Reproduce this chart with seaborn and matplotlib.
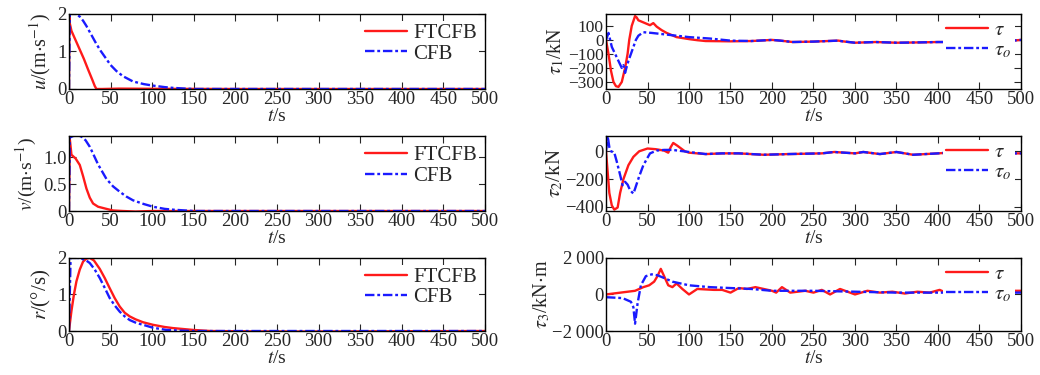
import matplotlib
matplotlib.use("Agg")
import matplotlib.pyplot as plt
import seaborn as sns
import numpy as np

# ---- data ----
# u (surge speed)
u_t_ftcfb = [0, 0.5, 1, 3, 8, 13, 18, 23, 28, 31, 33, 40, 60, 100, 200, 300, 400, 500]
u_ftcfb = [0, 1.95, 1.75, 1.55, 1.3, 1.05, 0.8, 0.52, 0.25, 0.08, 0.0, 0.0, 0.01, 0.005, 0, 0, 0, 0]
u_t_cfb = [0, 1, 3, 8, 13, 17, 21, 25, 29, 33, 38, 44, 50, 57, 65, 77, 90, 101, 115, 125, 140, 150, 200, 500]
u_cfb = [0, 2.0, 2.02, 2.0, 1.93, 1.82, 1.68, 1.52, 1.36, 1.2, 1.02, 0.83, 0.64, 0.48, 0.34, 0.2,
         0.13, 0.09, 0.05, 0.03, 0.01, 0.0, 0, 0]

# v (sway speed)
v_t_ftcfb = [0, 1, 3, 8, 13, 17, 21, 25, 29, 35, 45, 53, 65, 80, 100, 500]
v_ftcfb = [0, 1.35, 1.05, 0.98, 0.86, 0.65, 0.42, 0.25, 0.14, 0.08, 0.04, 0.01, 0.0, -0.01, 0, 0]
v_t_cfb = [0, 1, 5, 10, 15, 20, 25, 29, 35, 45, 53, 61, 69, 77, 90, 101, 115, 125, 140, 150, 500]
v_cfb = [0, 1.37, 1.4, 1.41, 1.39, 1.32, 1.2, 1.07, 0.87, 0.6, 0.46, 0.36, 0.27, 0.2, 0.13, 0.08,
         0.04, 0.025, 0.01, 0, 0]

# r (yaw rate)
r_t_ftcfb = [0, 3, 6, 9, 13, 17, 21, 25, 30, 37, 43, 49, 55, 61, 67, 73, 80, 89, 101, 115, 125,
             149, 170, 220, 280, 500]
r_ftcfb = [0, 0.55, 1.0, 1.36, 1.68, 1.9, 1.98, 2.0, 1.93, 1.7, 1.45, 1.17, 0.9, 0.67, 0.5, 0.4,
           0.32, 0.24, 0.17, 0.11, 0.08, 0.03, 0.0, -0.01, -0.015, 0]
r_t_cfb = [0, 1, 2, 5, 10, 15, 20, 25, 31, 37, 43, 49, 55, 61, 67, 73, 81, 89, 101, 117, 135, 150, 500]
r_cfb = [0, 1.0, 2.0, 2.0, 2.0, 1.98, 1.94, 1.86, 1.68, 1.45, 1.18, 0.9, 0.7, 0.53, 0.4, 0.3,
         0.22, 0.17, 0.09, 0.03, 0.01, 0, 0]

# tau1
tau1_t = [0, 3, 6, 9, 12, 15, 19, 23, 26, 28, 31, 35, 37, 39, 45, 53, 57, 61, 67, 73, 85, 101,
          110, 120, 150, 175, 200, 210, 225, 250, 280, 285, 300, 325, 350, 375, 400, 412, 450, 490, 500]
tau1 = [0, -100, -220, -300, -330, -335, -300, -200, -100, 0, 100, 170, 160, 140, 125, 105, 120,
        95, 70, 50, 20, 5, -2, -8, -10, -8, 0, -5, -15, -12, -5, -10, -20, -15, -20, -18, -15, -15,
        -15, -5, 0]
tau1o_t = [0, 3, 7, 11, 15, 19, 21, 23, 25, 27, 30, 33, 36, 39, 45, 55, 70, 85, 100, 125, 150,
           175, 200, 210, 225, 250, 280, 285, 300, 325, 350, 375, 400, 412, 450, 490, 500]
tau1o = [0, 50, -50, -100, -150, -200, -180, -235, -190, -150, -100, -50, 0, 30, 55, 50, 40, 30,
         20, 10, -5, -8, 0, -5, -15, -12, -5, -10, -20, -15, -20, -18, -15, -15, -15, -5, 0]

# tau2
tau2_t = [0, 2, 4, 7, 10, 14, 17, 21, 27, 33, 40, 50, 60, 70, 75, 78, 81, 86, 95, 100, 120, 140,
          160, 190, 220, 260, 275, 300, 310, 330, 350, 370, 400, 412, 450, 500]
tau2 = [0, -150, -300, -390, -420, -405, -300, -200, -100, -40, 0, 20, 15, 5, -10, 30, 60, 40, 0,
        -10, -20, -15, -15, -25, -20, -15, -5, -15, -5, -20, -5, -25, -15, -10, -15, -15]
tau2o_t = [0, 2, 4, 6, 10, 13, 17, 20, 23, 26, 29, 33, 35, 40, 45, 53, 61, 70, 80, 100, 120, 140,
           160, 190, 220, 260, 275, 300, 310, 330, 350, 370, 400, 412, 450, 500]
tau2o = [0, 110, 30, 0, -10, -75, -170, -245, -220, -240, -280, -305, -270, -180, -100, -15, 5,
         10, 10, -5, -20, -15, -15, -25, -20, -15, -5, -15, -5, -20, -5, -25, -15, -10, -15, -15]

# tau3
tau3_t = [0, 35, 45, 52, 58, 62, 66, 70, 75, 80, 85, 92, 100, 110, 130, 140, 150, 160, 170, 180,
          200, 205, 212, 222, 240, 250, 260, 270, 282, 300, 315, 330, 345, 360, 375, 390, 402, 412,
          450, 490, 500]
tau3 = [0, 200, 400, 500, 700, 1000, 1400, 1000, 500, 400, 600, 300, 0, 300, 250, 250, 100, 350,
        300, 400, 200, 100, 400, 100, 200, 100, 250, 0, 300, 0, 200, 100, 150, 50, 150, 100, 250,
        50, 150, 200, 200]
tau3o_t = [0, 20, 30, 33, 35, 38, 42, 48, 55, 62, 70, 80, 90, 100, 125, 150, 175, 200, 250, 300,
           350, 400, 412, 450, 500]
tau3o = [-150, -200, -400, -700, -1600, -500, 500, 1000, 1100, 1050, 900, 700, 600, 500, 400, 350,
         300, 200, 200, 150, 100, 100, 100, 100, 100]

x_ticks = list(range(0, 501, 50))

sns.set_style("ticks")
plt.rcParams["font.family"] = ["Liberation Serif", "DejaVu Serif"]
plt.rcParams["mathtext.fontset"] = "stix"
plt.rcParams["xtick.direction"] = "in"
plt.rcParams["ytick.direction"] = "in"
plt.rcParams["xtick.top"] = True
plt.rcParams["ytick.right"] = True
plt.rcParams["xtick.major.size"] = 5
plt.rcParams["ytick.major.size"] = 5
plt.rcParams["axes.linewidth"] = 1.0

RED = "#ff1a1a"
BLUE = "#1a1aff"
DASH = (4, 1.2, 1.2, 1.2)

fig = plt.figure(figsize=(10.4, 3.75), dpi=100)

lefts = [0.0663, 0.5827]
bottoms = [0.7627, 0.4373, 0.1173]
heights = [0.2, 0.2, 0.195]


def draw(ax, t1, y1, t2, y2, lab1, lab2, right=False):
    sns.lineplot(x=t1, y=y1, ax=ax, color=RED, lw=1.7, label=lab1, sort=False)
    sns.lineplot(x=t2, y=y2, ax=ax, color=BLUE, lw=1.7, label=lab2, sort=False,
                 dashes=False)
    ax.lines[-1].set_dashes(DASH)
    ax.set_xlim(0, 500)
    ax.set_xticks(x_ticks)
    ax.tick_params(labelsize=13.5, pad=1.5)
    ax.set_xlabel(r"$t$/s", fontsize=14, labelpad=0)
    if right:
        leg = ax.legend(loc="upper right", bbox_to_anchor=(0.985, 0.95), fontsize=15,
                        frameon=True, framealpha=1, edgecolor="none", facecolor="white",
                        handlelength=2.0, labelspacing=0.0, borderpad=0.15,
                        handletextpad=0.3, borderaxespad=0)
    else:
        leg = ax.legend(loc="upper right", bbox_to_anchor=(0.985, 0.9), fontsize=15,
                        frameon=True, framealpha=1, edgecolor="none", facecolor="white",
                        handlelength=2.0, labelspacing=0.05, borderpad=0.1,
                        handletextpad=0.3, borderaxespad=0)
    leg.get_frame().set_linewidth(0)
    for spine in ax.spines.values():
        spine.set_color("black")


# left column
ax = fig.add_axes([lefts[0], bottoms[0], 0.4, heights[0]])
draw(ax, u_t_ftcfb, u_ftcfb, u_t_cfb, u_cfb, "FTCFB", "CFB")
ax.set_ylim(0, 2)
ax.set_yticks([0, 1, 2])
ax.set_ylabel(r"$u$/(m$\cdot$s$^{-1}$)", fontsize=14.5, labelpad=3)

ax = fig.add_axes([lefts[0], bottoms[1], 0.4, heights[1]])
draw(ax, v_t_ftcfb, v_ftcfb, v_t_cfb, v_cfb, "FTCFB", "CFB")
ax.set_ylim(0, 1.4)
ax.set_yticks([0, 0.5, 1.0])
ax.set_yticklabels(["0", "0.5", "1.0"])
ax.set_ylabel(r"$v$/(m$\cdot$s$^{-1}$)", fontsize=14, labelpad=3)

ax = fig.add_axes([lefts[0], bottoms[2], 0.4, heights[2]])
draw(ax, r_t_ftcfb, r_ftcfb, r_t_cfb, r_cfb, "FTCFB", "CFB")
ax.set_ylim(0, 2)
ax.set_yticks([0, 1, 2])
ax.set_ylabel(r"$r$/(°/s)", fontsize=15, labelpad=3)

# right column
ax = fig.add_axes([lefts[1], bottoms[0], 0.399, heights[0]])
draw(ax, tau1_t, tau1, tau1o_t, tau1o, r"$\tau$", r"$\tau_o$", right=True)
ax.set_ylim(-350, 185)
ax.set_yticks([-300, -200, -100, 0, 100])
ax.set_yticklabels(["\u2212300", "\u2212200", "\u2212100", "0", "100"])
ax.tick_params(axis="y", labelsize=12.5)
ax.set_ylabel(r"$\tau_1$/kN", fontsize=14.5, labelpad=1)

ax = fig.add_axes([lefts[1], bottoms[1], 0.399, heights[1]])
draw(ax, tau2_t, tau2, tau2o_t, tau2o, r"$\tau$", r"$\tau_o$", right=True)
ax.set_ylim(-430, 110)
ax.set_yticks([-400, -200, 0])
ax.set_yticklabels(["\u2212400", "\u2212200", "0"])
ax.set_ylabel(r"$\tau_2$/kN", fontsize=15, labelpad=0)

ax = fig.add_axes([lefts[1], bottoms[2], 0.399, heights[2]])
draw(ax, tau3_t, tau3, tau3o_t, tau3o, r"$\tau$", r"$\tau_o$", right=True)
ax.set_ylim(-2000, 2000)
ax.set_yticks([-2000, 0, 2000])
ax.set_yticklabels(["\u22122\u2009000", "0", "2\u2009000"])
ax.set_ylabel(r"$\tau_3$/kN$\cdot$m", fontsize=14.5, labelpad=0)

fig.savefig("out.png", dpi=100)
